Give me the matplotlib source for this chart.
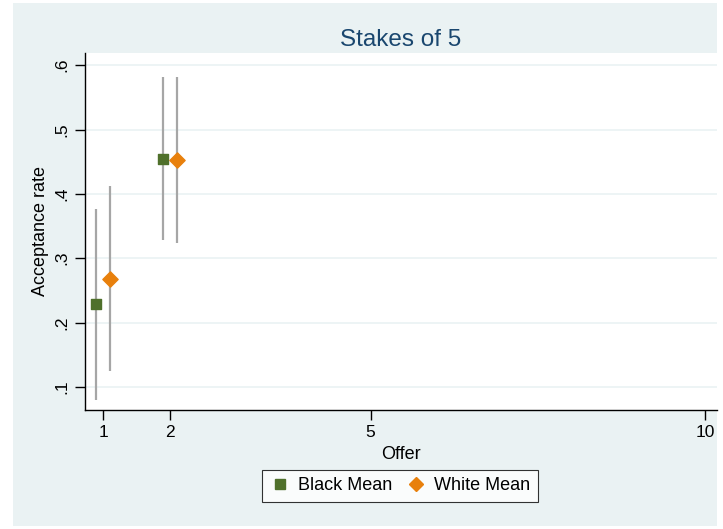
import matplotlib.pyplot as plt
import matplotlib.patches as mpatches
from matplotlib.lines import Line2D

plt.rcParams["font.family"] = ["Liberation Sans", "DejaVu Sans"]

# ================= DATA =================
offers = [1, 2]
black_mean = [0.229, 0.454]
black_lo = [0.080, 0.328]
black_hi = [0.376, 0.582]
white_mean = [0.268, 0.453]
white_lo = [0.124, 0.324]
white_hi = [0.413, 0.582]
x_ticks = [1, 2, 5, 10]
y_ticks = [0.1, 0.2, 0.3, 0.4, 0.5, 0.6]
y_labels = [".1", ".2", ".3", ".4", ".5", ".6"]

BG = "#eaf2f3"
GREEN = "#4f702b"
ORANGE = "#e8800c"
GREY = "#a6a6a6"
NAVY = "#1a476f"

# ================= FIGURE =================
W, H = 723, 529
fig = plt.figure(figsize=(W / 100, H / 100), dpi=100)
fig.patch.set_facecolor("white")
fig.patches.append(mpatches.Rectangle((13 / W, 3 / H), (717 - 13) / W, (526 - 3) / H,
                                      transform=fig.transFigure, facecolor=BG,
                                      edgecolor="none", zorder=-5))

ax = fig.add_axes([85 / W, 1 - 410 / H, (717 - 85) / W, (410 - 53) / H])
ax.set_zorder(1)
ax.set_facecolor("white")

shift = 0.1
bx = [o - shift for o in offers]
wx = [o + shift for o in offers]

ax.vlines(bx, black_lo, black_hi, color=GREY, lw=1.6, zorder=2)
ax.vlines(wx, white_lo, white_hi, color=GREY, lw=1.6, zorder=2)
ax.scatter(bx, black_mean, marker="s", s=60, color=GREEN, zorder=3)
ax.scatter(wx, white_mean, marker="D", s=60, color=ORANGE, zorder=3)

ax.set_xlim(0.73, 10.18)
ax.set_ylim(0.064, 0.619)
ax.set_xticks(x_ticks)
ax.set_xticklabels([str(t) for t in x_ticks], fontsize=12.5)
ax.set_yticks(y_ticks)
ax.set_yticklabels(y_labels, fontsize=12.5, rotation=90, va="center")
ax.grid(axis="y", color=BG, lw=1.2)
ax.set_axisbelow(True)
for s in ["top", "right"]:
    ax.spines[s].set_visible(False)
for s in ["left", "bottom"]:
    ax.spines[s].set_color("black")
    ax.spines[s].set_linewidth(1)
ax.tick_params(length=7, width=1, color="black", pad=4)

ax.set_xlabel("Offer", fontsize=13, labelpad=4)
ax.set_ylabel("Acceptance rate", fontsize=13, labelpad=4)
ax.set_title("Stakes of 5", fontsize=17.5, color=NAVY, pad=5)

handles = [
    Line2D([], [], marker="s", ls="none", color=GREEN, markersize=7),
    Line2D([], [], marker="D", ls="none", color=ORANGE, markersize=7),
]
leg = fig.legend(handles, ["Black Mean", "White Mean"], loc="center",
                 bbox_to_anchor=(400 / W, 1 - 486 / H), ncol=2, fontsize=13,
                 frameon=True, fancybox=False, edgecolor="black",
                 handletextpad=0.4, columnspacing=0.7, borderpad=0.4,
                 handlelength=1.2)
leg.get_frame().set_linewidth(0.8)

fig.savefig("out.png", dpi=100, facecolor=fig.get_facecolor())
